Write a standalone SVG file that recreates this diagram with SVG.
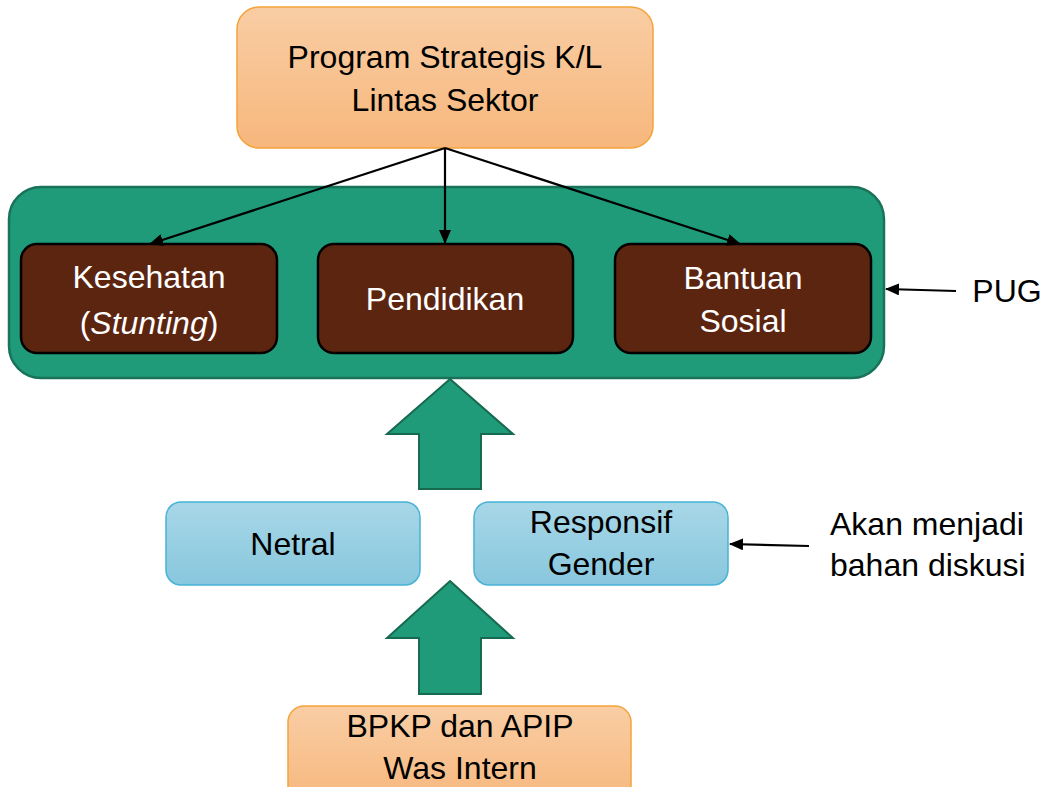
<svg xmlns="http://www.w3.org/2000/svg" width="1043" height="787" viewBox="0 0 1043 787">
<defs>
<linearGradient id="gOrange" x1="0" y1="0" x2="0" y2="1">
<stop offset="0" stop-color="#F9CDA4"/>
<stop offset="1" stop-color="#F7B77C"/>
</linearGradient>
<linearGradient id="gBlue" x1="0" y1="0" x2="0" y2="1">
<stop offset="0" stop-color="#A8D7E7"/>
<stop offset="1" stop-color="#88C7DE"/>
</linearGradient>
<marker id="ah" viewBox="0 0 14 12" refX="13" refY="6" markerWidth="14" markerHeight="12" markerUnits="userSpaceOnUse" orient="auto">
<path d="M0,0 L14,6 L0,12 z" fill="#000"/>
</marker>
<style>
text{font-family:"Liberation Sans",Arial,sans-serif;font-size:32px;text-anchor:middle;}
.dark{fill:#000;}
.light{fill:#fff;}
.orange{fill:url(#gOrange);stroke:#F3A43A;stroke-width:1.5;}
.blue{fill:url(#gBlue);stroke:#46B2D6;stroke-width:1.5;}
.brown{fill:#5C2510;stroke:#000;stroke-width:2.5;}
.green{fill:#1F9B7A;stroke:#1A7259;stroke-width:2.5;}
.conn{stroke:#000;stroke-width:2.2;fill:none;marker-end:url(#ah);}
.bigarrow{fill:#1F9B7A;stroke:#17694F;stroke-width:2;}
</style>
</defs>

<g id="program">
<rect class="orange" x="237" y="7" width="416" height="141" rx="22"/>
<text class="dark" x="445" y="68">Program Strategis K/L</text>
<text class="dark" x="445" y="111">Lintas Sektor</text>
</g>

<g id="container">
<rect class="green" x="9" y="187" width="875" height="191" rx="32"/>
</g>

<g id="kesehatan">
<rect class="brown" x="21" y="244" width="256" height="109" rx="16"/>
<text class="light" x="149" y="288">Kesehatan</text>
<text class="light" x="149" y="334">(<tspan font-style="italic">Stunting</tspan>)</text>
</g>

<g id="pendidikan">
<rect class="brown" x="318" y="244" width="255" height="109" rx="16"/>
<text class="light" x="445" y="310">Pendidikan</text>
</g>

<g id="bantuan">
<rect class="brown" x="615" y="244" width="256" height="109" rx="16"/>
<text class="light" x="743" y="289">Bantuan</text>
<text class="light" x="743" y="332">Sosial</text>
</g>

<g id="pug">
<text class="dark" x="1007" y="302">PUG</text>
</g>

<g id="netral">
<rect class="blue" x="166" y="502" width="254" height="83" rx="15"/>
<text class="dark" x="293" y="555">Netral</text>
</g>

<g id="responsif">
<rect class="blue" x="474" y="502" width="254" height="83" rx="15"/>
<text class="dark" x="601" y="533">Responsif</text>
<text class="dark" x="601" y="575">Gender</text>
</g>

<g id="diskusi">
<text class="dark" x="830" y="535" style="text-anchor:start">Akan menjadi</text>
<text class="dark" x="830" y="576" style="text-anchor:start">bahan diskusi</text>
</g>

<g id="bpkp">
<rect class="orange" x="288" y="706" width="343" height="100" rx="16"/>
<text class="dark" x="460" y="737">BPKP dan APIP</text>
<text class="dark" x="460" y="779">Was Intern</text>
</g>

<g id="connectors">
<line class="conn" x1="445" y1="148" x2="150" y2="244"/>
<line class="conn" x1="445" y1="148" x2="445" y2="243"/>
<line class="conn" x1="445" y1="148" x2="740" y2="244"/>
<line class="conn" x1="956" y1="291" x2="886" y2="289"/>
<line class="conn" x1="809" y1="546" x2="730" y2="544"/>
<path class="bigarrow" d="M450,379 L513,434 L481,434 L481,489 L419,489 L419,434 L387,434 Z"/>
<path class="bigarrow" d="M450,581 L513,638 L481,638 L481,694 L419,694 L419,638 L387,638 Z"/>
</g>
</svg>
